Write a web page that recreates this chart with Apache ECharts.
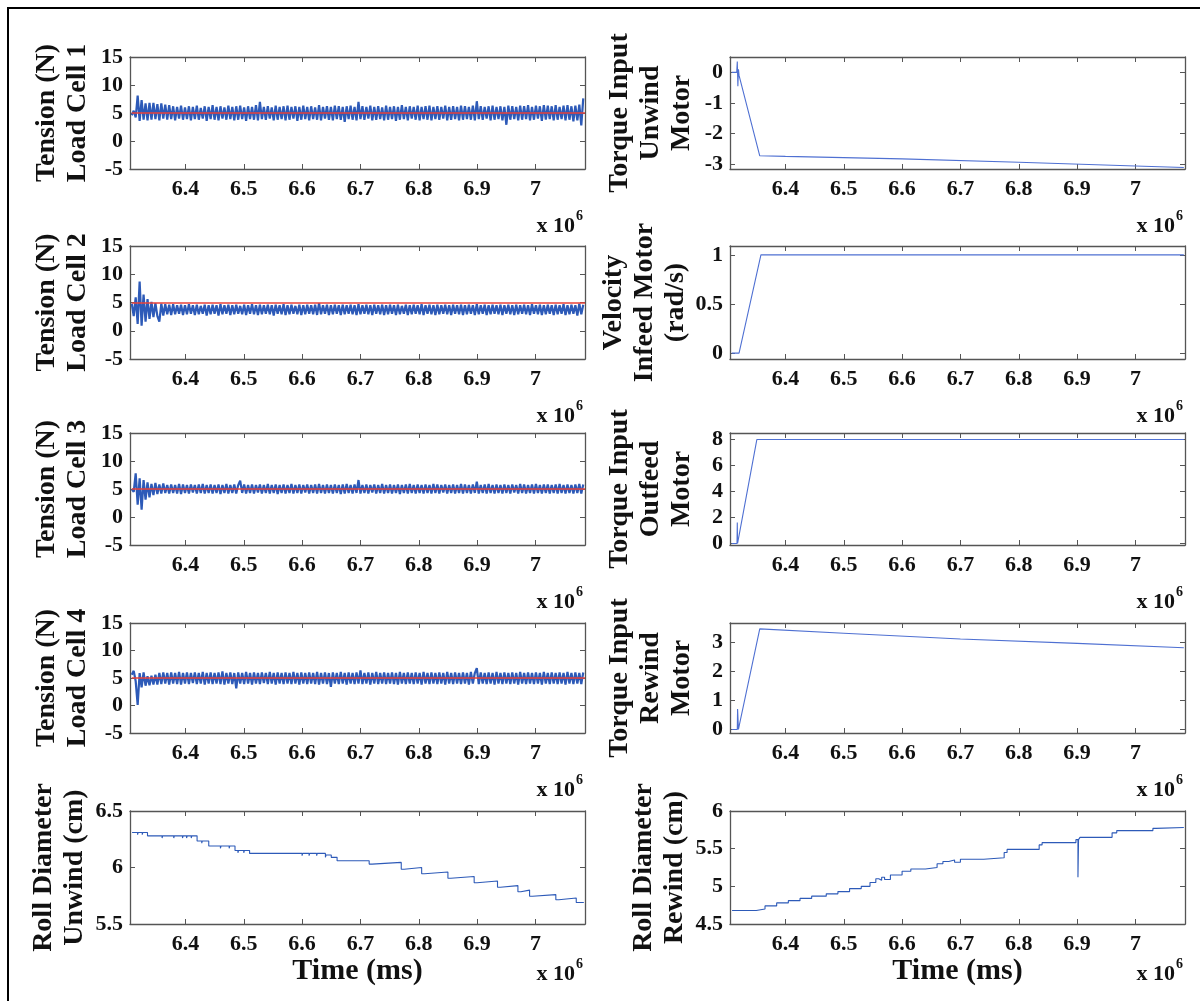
<!DOCTYPE html>
<html><head><meta charset="utf-8">
<script src="https://cdn.jsdelivr.net/npm/echarts@6/dist/echarts.min.js"></script>
<style>html,body{margin:0;padding:0;background:#fff}#c{width:1200px;height:1001px}</style>
</head><body><div id="c"></div><script>
// ---------------- DATA (time in units of 10^6 ms) ----------------
const xTickValues = [6.4, 6.5, 6.6, 6.7, 6.8, 6.9, 7.0];
const xMin = 6.305, xMax = 7.085;

// tension sample clock
const tensionStart = 6.308, tensionStep = 0.00338;

const loadCell1 = [
4.6,5.4,4.2,8.1,3.6,7.3,3.8,6.7,3.7,6.8,
3.8,6.8,3.9,6.6,3.7,6.7,4.0,6.5,3.8,6.4,
3.9,6.2,3.7,6.1,4.0,6.3,3.8,6.0,3.9,6.2,
3.7,6.1,3.9,6.3,3.8,5.9,4.0,6.2,3.6,6.1,
3.9,6.4,3.8,6.1,3.7,6.2,4.0,6.0,3.8,6.3,
3.9,6.1,3.7,6.2,3.8,6.3,3.9,6.0,3.6,6.2,
3.9,6.1,3.8,6.4,3.7,7.0,3.9,6.1,3.8,6.2,
4.0,6.0,3.7,6.3,3.8,6.1,3.9,6.2,3.7,6.3,
3.8,6.1,4.0,6.2,3.6,6.1,3.8,6.3,3.9,6.1,
3.7,6.2,3.9,6.0,3.8,6.4,3.7,6.1,4.0,6.2,
3.8,6.1,3.7,6.3,3.9,6.2,3.8,6.1,3.4,6.2,
3.9,6.3,3.8,6.1,3.7,7.0,3.9,6.2,3.8,6.1,
4.0,6.3,3.7,6.1,3.8,6.2,3.9,6.0,3.7,6.3,
3.8,6.1,3.9,6.2,3.6,6.1,3.8,6.4,3.9,6.1,
3.7,6.2,4.0,6.1,3.8,6.3,3.7,6.1,3.9,6.2,
3.8,6.3,3.7,6.1,3.9,6.2,3.8,6.1,4.0,6.3,
3.7,6.1,3.8,6.2,3.9,6.1,3.7,6.3,3.8,6.2,
3.9,6.1,3.8,6.3,3.7,7.1,3.9,6.2,3.8,6.1,
4.0,6.2,3.7,6.3,3.8,6.1,3.9,6.2,3.7,6.1,
2.9,6.3,3.8,6.2,3.9,6.1,3.7,6.3,3.8,6.2,
3.9,6.4,3.7,6.1,3.8,6.3,4.0,6.2,3.6,6.4,
3.8,6.3,3.9,6.2,3.7,6.4,3.8,6.1,3.9,6.3,
3.7,6.4,3.8,6.2,3.5,6.3,3.7,6.5,2.8,7.6];
const loadCell2 = [
4.8,2.6,5.9,1.2,8.7,0.9,6.4,1.6,5.6,2.1,
5.1,2.4,4.9,2.6,1.6,4.8,2.7,4.7,2.9,4.6,
2.8,4.7,2.9,4.5,3.0,4.6,2.8,4.5,2.9,4.7,
3.0,4.5,2.8,4.6,2.9,4.4,3.0,4.6,2.7,4.5,
2.9,4.6,3.0,4.5,2.7,4.7,2.9,4.5,3.0,4.6,
2.8,4.5,2.9,4.6,3.0,4.4,2.9,4.6,2.8,4.5,
3.0,4.7,2.9,4.5,2.8,4.6,2.9,4.5,3.0,4.6,
2.9,4.5,2.7,4.6,3.0,4.5,2.9,4.7,2.8,4.5,
2.9,4.6,3.0,4.4,2.9,4.6,2.8,4.5,2.9,4.6,
3.0,4.5,2.9,4.6,2.8,4.9,2.9,4.5,3.0,4.6,
2.8,4.5,2.9,4.6,3.0,4.5,2.8,4.6,2.9,4.5,
3.0,4.6,2.9,4.5,2.8,4.7,2.9,4.5,3.0,4.6,
2.9,4.5,2.8,4.6,3.0,4.5,2.9,4.6,2.8,4.5,
2.9,4.6,3.0,4.5,2.8,4.6,2.9,4.4,3.0,4.6,
2.8,4.5,2.9,4.6,3.0,4.5,2.9,4.7,2.8,4.5,
3.0,4.6,2.9,4.5,2.8,4.6,2.9,4.5,3.0,4.6,
2.9,4.5,2.8,4.6,3.0,4.5,2.9,4.6,2.8,4.5,
2.9,4.6,3.0,4.5,2.8,4.7,2.9,4.5,3.0,4.6,
2.8,4.5,2.9,4.6,3.0,4.5,2.9,4.6,2.8,4.5,
3.0,4.6,2.9,4.5,2.8,4.6,2.9,4.5,3.0,4.6,
2.9,4.5,2.8,4.7,3.0,4.5,2.9,4.6,2.8,4.5,
2.9,4.6,3.0,4.5,2.8,4.6,2.9,4.5,3.0,4.7,
2.8,4.5,2.9,4.6,3.0,4.5,2.7,4.8,2.9,4.6];
const loadCell3 = [
5.0,4.5,7.8,2.2,6.9,1.3,6.6,3.1,6.2,3.5,
5.9,3.9,6.1,4.1,5.8,4.2,6.0,4.3,5.7,4.2,
5.8,4.3,5.7,4.2,5.9,4.1,5.8,4.3,5.7,4.2,
5.8,4.4,5.7,4.2,5.8,4.3,5.9,4.2,5.7,4.3,
5.8,4.2,5.7,4.3,5.8,4.1,5.7,4.3,5.9,4.2,
5.7,4.3,5.8,4.2,5.7,6.5,4.3,5.8,4.2,5.7,
4.3,5.8,4.2,5.7,4.4,5.8,4.2,5.7,4.3,5.9,
4.2,5.7,4.3,5.8,4.1,5.7,4.3,5.8,4.2,5.7,
4.3,5.9,4.2,5.7,4.3,5.8,4.2,5.7,4.4,5.8,
4.2,5.7,4.3,5.8,4.2,5.9,4.3,5.7,4.2,5.8,
4.3,5.7,4.2,5.8,4.3,5.7,4.1,5.8,4.2,5.9,
4.3,5.7,4.2,5.8,4.3,6.6,4.2,5.7,4.3,5.8,
4.2,5.7,4.4,5.8,4.2,5.7,4.3,5.9,4.2,5.7,
4.3,5.8,4.2,5.7,4.3,5.8,4.1,5.7,4.3,5.8,
4.2,5.9,4.3,5.7,4.2,5.8,4.3,5.7,4.2,5.8,
4.3,5.7,4.2,5.9,4.3,5.8,4.2,5.7,4.4,5.8,
4.2,5.7,4.3,5.8,4.2,5.7,4.3,5.9,4.2,5.8,
4.3,5.7,4.2,5.8,4.3,6.3,4.2,5.7,4.3,5.8,
4.2,5.9,4.3,5.7,4.2,5.8,4.3,5.7,4.2,5.8,
4.3,5.7,4.2,5.8,4.4,5.7,4.2,5.9,4.3,5.8,
4.2,5.7,4.3,5.8,4.2,5.9,4.3,5.7,4.2,5.8,
4.3,5.8,4.2,5.7,4.3,5.8,4.2,5.9,4.3,5.7,
4.2,5.8,4.3,5.7,4.2,5.8,4.3,5.9,4.2,5.8];
const loadCell4 = [
5.6,6.3,4.4,0.1,5.9,3.3,6.0,3.6,5.3,3.7,
5.4,3.8,5.6,3.8,5.9,3.9,6.0,4.0,5.9,3.8,
6.0,4.0,5.9,3.9,6.1,3.8,5.9,4.0,6.0,3.9,
5.9,4.1,6.0,3.9,5.9,4.0,6.1,3.8,5.9,4.0,
6.0,3.9,5.9,4.0,6.0,3.9,6.2,3.8,5.9,4.0,
6.0,3.9,5.9,3.1,6.0,4.0,5.9,3.9,6.1,4.0,
5.9,3.8,6.0,4.0,5.9,3.9,6.0,4.1,5.9,3.9,
6.1,4.0,5.9,3.8,6.0,4.0,5.9,3.9,6.0,4.0,
5.9,3.9,6.1,4.0,5.9,3.8,6.0,4.0,5.9,3.9,
6.0,4.0,5.9,3.9,6.1,3.8,5.9,4.0,6.0,3.9,
5.9,3.4,6.0,4.0,5.9,3.9,6.1,4.0,5.9,3.8,
6.0,4.0,5.9,3.9,6.0,4.0,6.4,3.9,5.9,4.0,
6.0,3.8,5.9,4.0,6.1,3.9,5.9,4.0,6.0,3.9,
5.9,4.0,6.0,3.9,5.9,3.8,6.1,4.0,5.9,3.9,
6.0,4.0,5.9,3.9,6.0,4.0,5.9,3.8,6.1,4.0,
5.9,3.9,6.0,4.0,5.9,3.9,6.0,4.0,5.9,3.8,
6.1,4.0,5.9,3.9,6.0,4.0,5.9,3.9,6.0,4.0,
5.9,3.8,6.1,4.0,5.9,6.8,3.9,6.0,4.0,5.9,
3.9,6.0,4.0,5.9,3.8,6.1,4.0,5.9,3.9,6.0,
4.0,5.9,3.9,6.0,4.0,5.9,3.8,6.1,4.0,5.9,
3.9,6.0,4.0,5.9,3.9,6.0,4.0,5.9,3.8,6.1,
4.0,5.9,3.9,6.0,4.0,5.9,3.9,6.0,4.0,5.9,
3.8,6.1,4.0,5.9,3.9,6.0,4.0,5.9,3.9,6.0];
const tensionSetpoints = [5.0, 4.9, 5.0, 5.0];

const unwindTorqueTime  = [6.308, 6.3165, 6.3175, 6.3185, 6.3195, 6.3205, 6.356, 6.4, 6.6, 6.8, 7.0, 7.083];
const unwindTorqueValue = [0, 0, 0.35, -0.45, 0.1, -0.1, -2.72, -2.74, -2.82, -2.93, -3.05, -3.1];
const infeedVelTime  = [6.308, 6.3205, 6.358, 7.083];
const infeedVelValue = [0, 0, 1.0, 1.0];
const outfeedTorqueTime  = [6.308, 6.317, 6.3175, 6.318, 6.3195, 6.351, 7.083];
const outfeedTorqueValue = [0, 0, 1.6, 0, 0, 7.95, 7.95];
const rewindTorqueTime  = [6.308, 6.3175, 6.318, 6.3195, 6.3215, 6.356, 6.5, 6.7, 6.9, 7.083];
const rewindTorqueValue = [0, 0, 0.7, 0, 0.2, 3.45, 3.3, 3.1, 2.95, 2.8];

const rollUnwindTime = [6.3085,6.318,6.319,6.326,6.327,6.335,6.36,6.361,6.38,6.381,6.395,6.396,6.402,6.403,6.41,6.411,6.42,6.428,6.429,6.44,6.46,6.461,6.475,6.476,6.485,6.49,6.491,6.5,6.501,6.51,6.6,6.601,6.612,6.613,6.625,6.626,6.64,6.641,6.65,6.66,6.715,6.72,6.77,6.775,6.805,6.81,6.85,6.855,6.895,6.9,6.935,6.94,6.97,6.975,6.99,6.995,7.035,7.04,7.07,7.083];
const rollUnwindValue = [6.31,6.29,6.31,6.29,6.31,6.28,6.26,6.28,6.26,6.28,6.26,6.28,6.26,6.28,6.26,6.28,6.235,6.215,6.235,6.19,6.17,6.19,6.17,6.19,6.15,6.13,6.15,6.13,6.15,6.125,6.105,6.125,6.105,6.125,6.105,6.125,6.09,6.11,6.09,6.06,6.03,6.045,5.985,6.0,5.945,5.96,5.905,5.92,5.865,5.88,5.825,5.84,5.785,5.80,5.745,5.76,5.715,5.73,5.69,5.69];
const rollRewindTime = [6.3085,6.318,6.319,6.33,6.331,6.35,6.365,6.385,6.405,6.425,6.445,6.47,6.49,6.51,6.53,6.545,6.555,6.56,6.565,6.57,6.58,6.6,6.615,6.64,6.66,6.67,6.68,6.69,6.7,6.74,6.775,6.78,6.835,6.84,6.898,6.9015,6.9025,6.905,6.96,6.968,7.03,7.035,7.083];
const rollRewindValue = [4.68,4.66,4.68,4.66,4.68,4.70,4.74,4.78,4.81,4.84,4.87,4.90,4.93,4.97,5.0,5.05,5.10,5.08,5.12,5.09,5.15,5.2,5.23,5.25,5.3,5.33,5.35,5.32,5.36,5.38,5.45,5.49,5.55,5.58,5.62,5.12,5.62,5.65,5.71,5.74,5.77,5.78,5.78];

// ---------------- LAYOUT / STYLE ----------------
const FONT = '"Liberation Serif","Times New Roman",serif';
const AX = '#555';
const BAND = '#2d5ab8';
const THIN = '#4f70d2';
const RED = '#e8423a';
const rowTop = [57, 246, 433, 623, 811];
const rowH   = [112, 113, 112, 110, 113];
const colLeft = [130, 730];
const plotW = 455;

const grids = [], xAxes = [], yAxes = [], series = [], graphics = [];

function addPanel(col, row, yCfg, xName) {
  const gi = grids.length;
  grids.push({left: colLeft[col], top: rowTop[row], width: plotW, height: rowH[row], containLabel: false});
  const tickStyle = {show: true, inside: true, length: 5, lineStyle: {color: AX, width: 1}};
  const lineStyle = {show: true, onZero: false, lineStyle: {color: AX, width: 1.3}};
  xAxes.push({type: 'value', gridIndex: gi, position: 'bottom', min: xMin, max: xMax,
    axisLine: lineStyle, axisTick: Object.assign({customValues: xTickValues}, tickStyle),
    axisLabel: {customValues: xTickValues, formatter: v => (Math.abs(v - 7) < 1e-9 ? '7' : v.toFixed(1)),
      margin: 9, fontFamily: FONT, fontWeight: 'bold', fontSize: 22, color: '#111'},
    splitLine: {show: false},
    name: xName || '', nameLocation: 'middle', nameGap: 27,
    nameTextStyle: {fontFamily: FONT, fontWeight: 'bold', fontSize: 30, color: '#111'}});
  xAxes.push({type: 'value', gridIndex: gi, position: 'top', min: xMin, max: xMax,
    axisLine: lineStyle, axisTick: Object.assign({customValues: xTickValues}, tickStyle),
    axisLabel: {show: false}, splitLine: {show: false}});
  yAxes.push({type: 'value', gridIndex: gi, position: 'left', min: yCfg.min, max: yCfg.max,
    axisLine: lineStyle, axisTick: Object.assign({customValues: yCfg.ticks}, tickStyle),
    axisLabel: {customValues: yCfg.ticks, margin: yCfg.labelMargin || 7, fontFamily: FONT, fontWeight: 'bold', fontSize: 22, color: '#111'},
    splitLine: {show: false},
    name: yCfg.name, nameLocation: 'middle', nameRotate: 90, nameGap: yCfg.nameGap,
    nameTextStyle: {fontFamily: FONT, fontWeight: 'bold', fontSize: 28, lineHeight: 31, color: '#111', align: 'center'}});
  yAxes.push({type: 'value', gridIndex: gi, position: 'right', min: yCfg.min, max: yCfg.max,
    axisLine: lineStyle, axisTick: Object.assign({customValues: yCfg.ticks}, tickStyle),
    axisLabel: {show: false}, splitLine: {show: false}});
  // "x 10^6" exponent label
  const right = colLeft[col] + plotW;
  const yb = rowTop[row] + rowH[row] + (row === 4 ? 50 : 57);
  graphics.push({type: 'text', x: right - 10, y: yb, style: {text: 'x 10', align: 'right', verticalAlign: 'middle',
    fontFamily: FONT, fontWeight: 'bold', fontSize: 22, fill: '#111'}});
  graphics.push({type: 'text', x: right - 9, y: yb - 10, style: {text: '6', align: 'left', verticalAlign: 'middle',
    fontFamily: FONT, fontWeight: 'bold', fontSize: 14, fill: '#111'}});
  return gi * 2;
}

function addLine(axIdx, data, color, width, step) {
  series.push({type: 'line', xAxisIndex: axIdx, yAxisIndex: axIdx, data: data, showSymbol: false, symbol: 'none',
    step: step || false, animation: false, silent: true, clip: true,
    lineStyle: {color: color, width: width, join: 'bevel', cap: 'butt'}});
}
const zip = (t, v) => t.map((x, i) => [x, v[i]]);
const tensionSeries = vals => vals.map((v, i) => [tensionStart + i * tensionStep, v]);

const tensionTicks = [-5, 0, 5, 10, 15];
const cells = [loadCell1, loadCell2, loadCell3, loadCell4];
cells.forEach((vals, r) => {
  const ax = addPanel(0, r, {min: -5, max: 15, ticks: tensionTicks, name: 'Tension (N)\nLoad Cell ' + (r + 1), nameGap: 37});
  addLine(ax, tensionSeries(vals), BAND, 2.2);
  addLine(ax, [[tensionStart, tensionSetpoints[r]], [xMax, tensionSetpoints[r]]], RED, 1.4);
});
let ax = addPanel(0, 4, {min: 5.5, max: 6.5, ticks: [5.5, 6, 6.5], name: 'Roll Diameter\nUnwind (cm)', nameGap: 40}, 'Time (ms)');
addLine(ax, zip(rollUnwindTime, rollUnwindValue), BAND, 1.1, 'end');

ax = addPanel(1, 0, {min: -3.15, max: 0.5, ticks: [-3, -2, -1, 0], name: 'Torque Input\nUnwind\nMotor', nameGap: 33});
addLine(ax, zip(unwindTorqueTime, unwindTorqueValue), THIN, 1.1);
ax = addPanel(1, 1, {min: -0.06, max: 1.09, ticks: [0, 0.5, 1], name: 'Velocity\nInfeed Motor\n(rad/s)', nameGap: 19});
addLine(ax, zip(infeedVelTime, infeedVelValue), THIN, 1.1);
ax = addPanel(1, 2, {min: -0.12, max: 8.45, ticks: [0, 2, 4, 6, 8], name: 'Torque Input\nOutfeed\nMotor', nameGap: 33});
addLine(ax, zip(outfeedTorqueTime, outfeedTorqueValue), THIN, 1.1);
ax = addPanel(1, 3, {min: -0.12, max: 3.65, ticks: [0, 1, 2, 3], name: 'Torque Input\nRewind\nMotor', nameGap: 33});
addLine(ax, zip(rewindTorqueTime, rewindTorqueValue), THIN, 1.1);
ax = addPanel(1, 4, {min: 4.5, max: 6, ticks: [4.5, 5, 5.5, 6], name: 'Roll Diameter\nRewind (cm)', nameGap: 40}, 'Time (ms)');
addLine(ax, zip(rollRewindTime, rollRewindValue), BAND, 1.1, 'end');

// outer frame (left and top edges)
graphics.push({type: 'polyline', shape: {points: [[8, 1001], [8, 8], [1200, 8]]}, style: {fill: 'none', stroke: '#000', lineWidth: 2}, z: -1});

const chart = echarts.init(document.getElementById('c'), null, {renderer: 'canvas'});
chart.setOption({
  animation: false,
  backgroundColor: '#fff',
  grid: grids, xAxis: xAxes, yAxis: yAxes, series: series,
  graphic: graphics
});
</script></body></html>
